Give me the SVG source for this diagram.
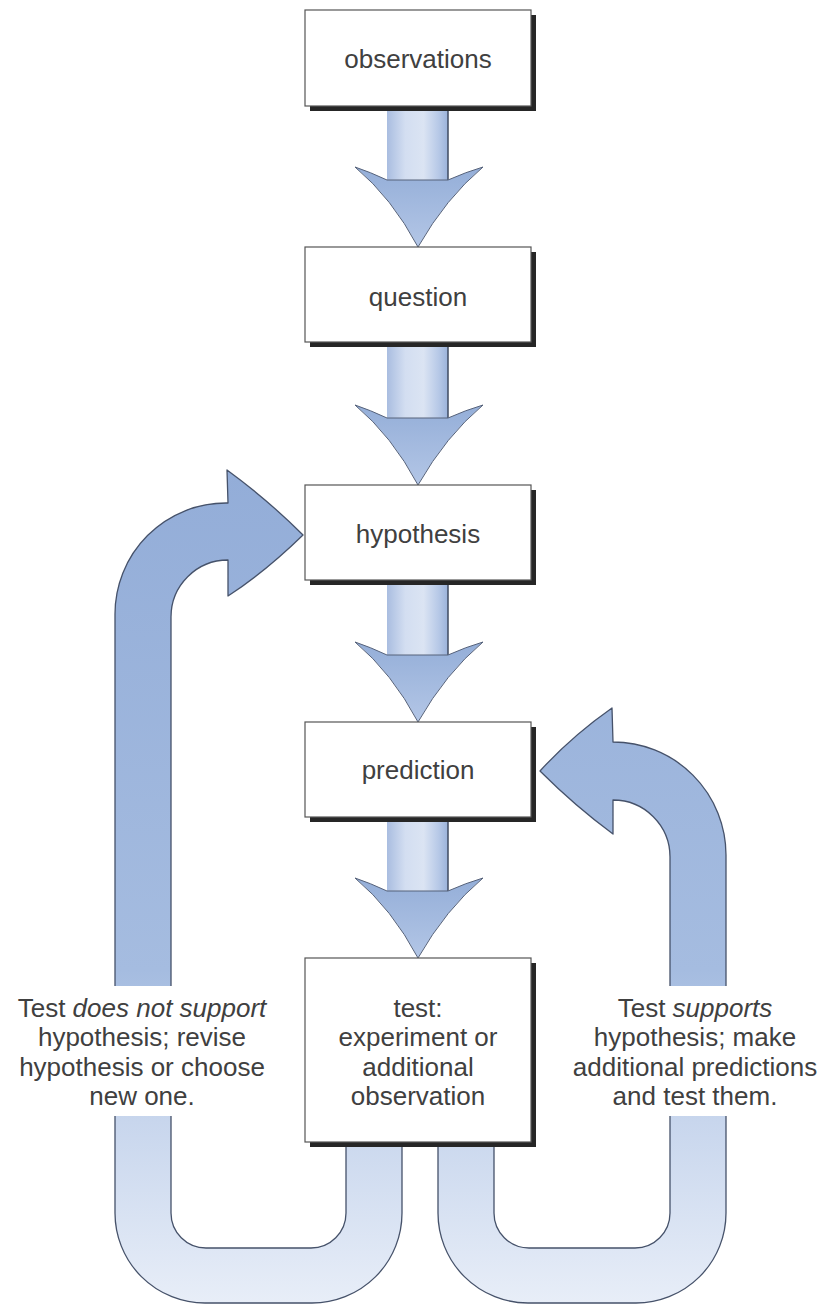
<svg xmlns="http://www.w3.org/2000/svg" width="818" height="1306" viewBox="0 0 818 1306">
<defs>
<linearGradient id="loopGrad" gradientUnits="userSpaceOnUse" x1="0" y1="470" x2="0" y2="1305">
<stop offset="0" stop-color="#93add8"/>
<stop offset="0.6" stop-color="#a5bce0"/>
<stop offset="0.78" stop-color="#c8d6ed"/>
<stop offset="1" stop-color="#e8eef8"/>
</linearGradient>
<linearGradient id="shaftGrad" x1="0" y1="0" x2="1" y2="0">
<stop offset="0" stop-color="#a9bde0"/>
<stop offset="0.3" stop-color="#d3def1"/>
<stop offset="0.6" stop-color="#dbe4f3"/>
<stop offset="0.85" stop-color="#b6c8e7"/>
<stop offset="1" stop-color="#9bb2da"/>
</linearGradient>
<linearGradient id="headGrad" x1="0" y1="0" x2="0" y2="1">
<stop offset="0" stop-color="#94aed8"/>
<stop offset="1" stop-color="#b3c6e6"/>
</linearGradient>
<g id="downArrow">
<path d="M387,100 L448,100 L448,180 L387,180 Z" fill="url(#shaftGrad)" stroke="none"/>
<path d="M448,100 L448,180" stroke="#3f4a60" stroke-width="1.5" fill="none"/>
<path d="M387,180 L448,180 Q466,172 483,167 Q446,198 418,247 Q392,198 355,167 Q370,172 387,180 Z" fill="url(#headGrad)" stroke="#56627a" stroke-width="1"/>
</g>
</defs>
<style>
.box{fill:#ffffff;stroke:#555555;stroke-width:1.2}
.shadow{fill:#262626}
.loop{fill:url(#loopGrad);stroke:#46526a;stroke-width:1.3;stroke-linejoin:round}
.t{font-family:"Liberation Sans",Arial,Helvetica,sans-serif;font-size:26px;fill:#404040;text-anchor:middle}
.i{font-style:italic}
</style>

<g id="connectors">
<path id="loop-left" class="loop" d="M402,1140 L402,1213 A90,90 0 0 1 312,1303 L205,1303 A90,90 0 0 1 115,1213 L115,614 A111,111 0 0 1 226,503 L228,503 L227,470 Q268,500 303,535 Q265,572 228,596 L228,560 A57,57 0 0 0 171,617 L171,1213 A35,35 0 0 0 206,1248 L311,1248 A35,35 0 0 0 346,1213 L346,1140 Z"/>
<path id="loop-right" class="loop" d="M438,1140 L438,1213 A90,90 0 0 0 528,1303 L636,1303 A90,90 0 0 0 726,1213 L726,855 A113,113 0 0 0 613,742 L612,708 Q572,736 540,771 Q575,806 613,834 L613,800 A57,57 0 0 1 670,857 L670,1213 A35,35 0 0 1 635,1248 L529,1248 A35,35 0 0 1 494,1213 L494,1140 Z"/>
<rect x="0" y="986" width="292" height="130" fill="#ffffff"/>
<rect x="556" y="986" width="262" height="130" fill="#ffffff"/>
<use href="#downArrow"/>
<use href="#downArrow" transform="translate(0,238)"/>
<use href="#downArrow" transform="translate(0,475)"/>
<use href="#downArrow" transform="translate(0,711)"/>
</g>

<g id="observations">
<rect class="shadow" x="310" y="15" width="226" height="96"/>
<rect class="box" x="305" y="10" width="226" height="96"/>
<text class="t" x="418" y="68">observations</text>
</g>
<g id="question">
<rect class="shadow" x="310" y="252" width="226" height="95"/>
<rect class="box" x="305" y="247" width="226" height="95"/>
<text class="t" x="418" y="306">question</text>
</g>
<g id="hypothesis">
<rect class="shadow" x="310" y="490" width="226" height="95"/>
<rect class="box" x="305" y="485" width="226" height="95"/>
<text class="t" x="418" y="543">hypothesis</text>
</g>
<g id="prediction">
<rect class="shadow" x="310" y="727" width="226" height="95"/>
<rect class="box" x="305" y="722" width="226" height="95"/>
<text class="t" x="418" y="779">prediction</text>
</g>
<g id="test">
<rect class="shadow" x="310" y="963" width="226" height="184"/>
<rect class="box" x="305" y="958" width="226" height="184"/>
<text class="t" x="418" y="1017">test:</text>
<text class="t" x="418" y="1046">experiment or</text>
<text class="t" x="418" y="1076">additional</text>
<text class="t" x="418" y="1105">observation</text>
</g>
<g id="label-not-support">
<text class="t" x="142" y="1017">Test <tspan class="i">does not support</tspan></text>
<text class="t" x="142" y="1046">hypothesis; revise</text>
<text class="t" x="142" y="1076">hypothesis or choose</text>
<text class="t" x="142" y="1105">new one.</text>
</g>
<g id="label-supports">
<text class="t" x="695" y="1017">Test <tspan class="i">supports</tspan></text>
<text class="t" x="695" y="1046">hypothesis; make</text>
<text class="t" x="695" y="1076">additional predictions</text>
<text class="t" x="695" y="1105">and test them.</text>
</g>
</svg>
